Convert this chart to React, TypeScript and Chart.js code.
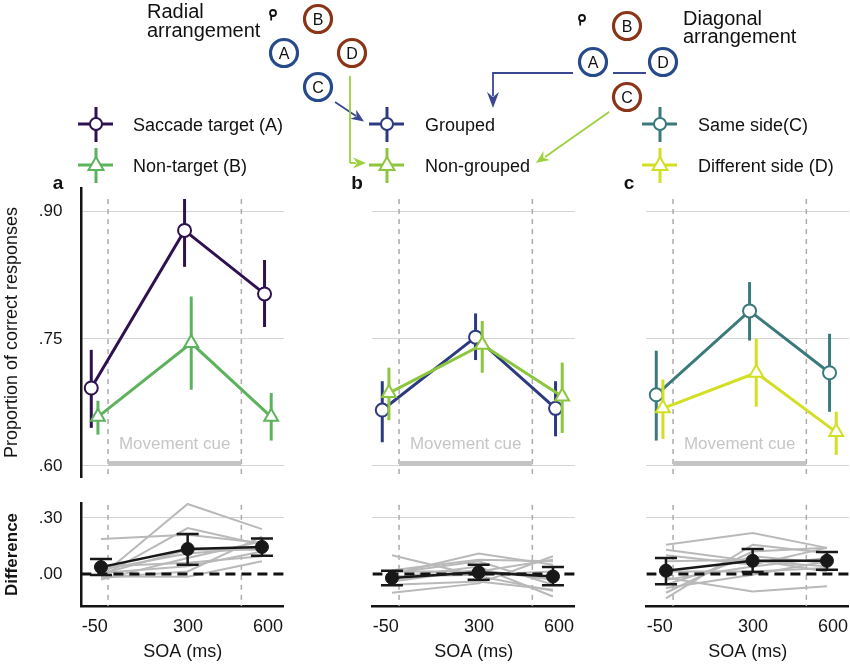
import React, { useEffect, useRef } from 'react';
import { Chart, registerables } from 'chart.js';

Chart.register(...registerables);

const FONT = "'Liberation Sans', Arial, Helvetica, sans-serif";
Chart.defaults.font.family = FONT;

// ---------------- data ----------------
const SOA = [-50, 300, 600];
const SOA_TICKS = [-50, 300, 600];
const CUE_WINDOW = [0, 500];
const Y_TICKS_TOP = [0.6, 0.75, 0.9];
const Y_TICKS_DIFF = [0, 0.3];

// panel a
const TARGET_MEAN = [0.692, 0.878, 0.803];
const TARGET_LO = [0.645, 0.835, 0.764];
const TARGET_HI = [0.737, 0.915, 0.843];
const NONTARGET_MEAN = [0.658, 0.745, 0.658];
const NONTARGET_LO = [0.637, 0.69, 0.63];
const NONTARGET_HI = [0.677, 0.8, 0.686];
// panel b
const GROUPED_MEAN = [0.666, 0.752, 0.668];
const GROUPED_LO = [0.628, 0.725, 0.635];
const GROUPED_HI = [0.7, 0.78, 0.7];
const NONGROUPED_MEAN = [0.686, 0.743, 0.682];
const NONGROUPED_LO = [0.654, 0.71, 0.639];
const NONGROUPED_HI = [0.716, 0.771, 0.722];
// panel c
const SAME_MEAN = [0.684, 0.783, 0.71];
const SAME_LO = [0.63, 0.748, 0.664];
const SAME_HI = [0.736, 0.817, 0.756];
const DIFFSIDE_MEAN = [0.668, 0.71, 0.64];
const DIFFSIDE_LO = [0.632, 0.67, 0.613];
const DIFFSIDE_HI = [0.702, 0.75, 0.664];

// difference panels: individual subjects + mean with CI
const DIFF_SUBJ_A = [
  [0.188, 0.21, 0.166],
  [-0.01, 0.375, 0.24],
  [-0.013, 0.246, 0.157],
  [-0.03, 0.086, 0.175],
  [0.005, 0.041, 0.121],
  [-0.013, -0.015, 0.068],
  [0.0, 0.13, 0.13],
  [-0.02, 0.014, 0.2],
  [0.023, 0.11, 0.14],
  [0.04, 0.06, 0.095],
];
const DIFF_MEAN_A = [0.037, 0.134, 0.145];
const DIFF_LO_A = [-0.005, 0.05, 0.098];
const DIFF_HI_A = [0.08, 0.214, 0.19];

const DIFF_SUBJ_B = [
  [0.1, -0.01, -0.09],
  [-0.1, -0.05, 0.095],
  [0.0, 0.11, 0.05],
  [0.02, 0.077, 0.068],
  [-0.02, 0.04, -0.12],
  [-0.04, 0.023, -0.03],
  [0.005, 0.068, -0.057],
  [-0.013, -0.004, 0.014],
  [-0.057, -0.04, -0.084],
  [0.014, 0.014, 0.077],
];
const DIFF_MEAN_B = [-0.021, 0.009, -0.013];
const DIFF_LO_B = [-0.06, -0.03, -0.06];
const DIFF_HI_B = [0.018, 0.05, 0.038];

const DIFF_SUBJ_C = [
  [0.157, 0.22, 0.14],
  [0.13, 0.068, 0.041],
  [0.1, 0.05, 0.14],
  [-0.13, 0.157, 0.113],
  [-0.1, 0.12, 0.14],
  [-0.02, -0.093, -0.066],
  [-0.057, 0.095, 0.059],
  [0.014, 0.014, 0.032],
  [-0.03, 0.04, 0.086],
  [0.068, 0.077, 0.014],
  [-0.075, -0.004, 0.068],
];
const DIFF_MEAN_C = [0.018, 0.071, 0.071];
const DIFF_LO_C = [-0.054, 0.011, 0.023];
const DIFF_HI_C = [0.086, 0.134, 0.118];

const PANEL_LABELS = ['a', 'b', 'c'];
const LEGEND_1 = ['Saccade target (A)', 'Grouped', 'Same side(C)'];
const LEGEND_2 = ['Non-target (B)', 'Non-grouped', 'Different side (D)'];

// ---------------- styles / layout ----------------
const COLOR_1 = ['#2e1150', '#2d3a82', '#3b7a7b'];
const COLOR_2 = ['#5db35d', '#8cc63e', '#d2df22'];
const GREY_SUBJ = '#b9b9b9';
const DASH_GREY = '#ababab';
const GRID_GREY = '#d4d4d4';
const INK = '#141414';

const PANEL_X = [0, 291, 565];
const LABEL_X = [58, 357, 629];
const AXIS_W = 81.4;
const CANVAS_W = 284;
const TOP_Y = 180;
const TOP_H = 300;
const BOT_Y = 495;
const BOT_H = 169;
const TOP_RANGE = [0.587, 0.928];
const DIFF_RANGE = [-0.171, 0.38];
const X_RANGE = [-100, 660];
const XD_RANGE = [-129, 689];
const DODGE_1 = -13;
const DODGE_2 = 12;
const CUE_BAR_Y = 0.603;
const TOP_VLINE_TOP = 0.915;
const DIFF_VLINE_TOP = 0.37;

const SERIES_1 = [
  { mean: TARGET_MEAN, lo: TARGET_LO, hi: TARGET_HI },
  { mean: GROUPED_MEAN, lo: GROUPED_LO, hi: GROUPED_HI },
  { mean: SAME_MEAN, lo: SAME_LO, hi: SAME_HI },
];
const SERIES_2 = [
  { mean: NONTARGET_MEAN, lo: NONTARGET_LO, hi: NONTARGET_HI },
  { mean: NONGROUPED_MEAN, lo: NONGROUPED_LO, hi: NONGROUPED_HI },
  { mean: DIFFSIDE_MEAN, lo: DIFFSIDE_LO, hi: DIFFSIDE_HI },
];
const DIFFS = [
  { subj: DIFF_SUBJ_A, mean: DIFF_MEAN_A, lo: DIFF_LO_A, hi: DIFF_HI_A },
  { subj: DIFF_SUBJ_B, mean: DIFF_MEAN_B, lo: DIFF_LO_B, hi: DIFF_HI_B },
  { subj: DIFF_SUBJ_C, mean: DIFF_MEAN_C, lo: DIFF_LO_C, hi: DIFF_HI_C },
];

const fmtDec = (v: number) => Number(v).toFixed(2).replace(/^0\./, '.');

const zeroPad = (s: any) => {
  s.paddingTop = 0;
  s.paddingBottom = 0;
  s.paddingLeft = 0;
  s.paddingRight = 0;
};

// ---------------- plugins ----------------
const errorBars = {
  id: 'errorBars',
  beforeDatasetDraw(chart: any, args: any) {
    const ds: any = chart.data.datasets[args.index];
    if (!ds.errLo) return;
    const meta = args.meta;
    const yScale = chart.scales[meta.yAxisID];
    const ctx = chart.ctx;
    const cap = ds.errCap || 0;
    ctx.save();
    ctx.strokeStyle = ds.borderColor;
    ctx.lineWidth = ds.errWidth || 3;
    ctx.lineCap = 'butt';
    meta.data.forEach((pt: any, i: number) => {
      const x = pt.x;
      const y1 = yScale.getPixelForValue(ds.errLo[i]);
      const y2 = yScale.getPixelForValue(ds.errHi[i]);
      ctx.beginPath();
      ctx.moveTo(x, y1);
      ctx.lineTo(x, y2);
      if (cap) {
        ctx.moveTo(x - cap, y1);
        ctx.lineTo(x + cap, y1);
        ctx.moveTo(x - cap, y2);
        ctx.lineTo(x + cap, y2);
      }
      ctx.stroke();
    });
    ctx.restore();
  },
};

const cueLabel = {
  id: 'cueLabel',
  defaults: {},
  beforeDatasetsDraw(chart: any, _args: any, opts: any) {
    if (!opts || !opts.text) return;
    const ctx = chart.ctx;
    const x = chart.scales.x.getPixelForValue(opts.x);
    const y = chart.scales.y.getPixelForValue(opts.y);
    ctx.save();
    ctx.font = `17px ${FONT}`;
    ctx.fillStyle = '#c6c6c6';
    ctx.textAlign = 'center';
    ctx.textBaseline = 'middle';
    ctx.fillText(opts.text, x, y);
    ctx.restore();
  },
};

// ---------------- chart configs ----------------
function vline(x: number, yTop: number, yBottom: number, order: number, axis = 'x') {
  return {
    label: 'v' + x,
    xAxisID: axis,
    data: [{ x, y: yTop }, { x, y: yBottom }],
    borderColor: DASH_GREY,
    borderWidth: 1.5,
    borderDash: [5, 5],
    pointRadius: 0,
    order,
  };
}

function topConfig(p: number): any {
  const s1 = SERIES_1[p];
  const s2 = SERIES_2[p];
  const first = p === 0;
  const pts = (vals: number[], dodge: number) => SOA.map((s, i) => ({ x: s + dodge, y: vals[i] }));
  return {
    type: 'line',
    data: {
      datasets: [
        {
          label: LEGEND_2[p],
          data: pts(s2.mean, DODGE_2),
          borderColor: COLOR_2[p],
          borderWidth: 3,
          pointStyle: 'triangle',
          pointRadius: 8,
          pointBorderWidth: 2,
          pointBackgroundColor: '#ffffff',
          pointBorderColor: COLOR_2[p],
          errLo: s2.lo,
          errHi: s2.hi,
          errWidth: 3,
          clip: false,
          order: 1,
        },
        {
          label: LEGEND_1[p],
          data: pts(s1.mean, DODGE_1),
          borderColor: COLOR_1[p],
          borderWidth: 3,
          pointStyle: 'circle',
          pointRadius: 6.5,
          pointBorderWidth: 2,
          pointBackgroundColor: '#ffffff',
          pointBorderColor: COLOR_1[p],
          errLo: s1.lo,
          errHi: s1.hi,
          errWidth: 3,
          clip: false,
          order: 2,
        },
        {
          label: 'Movement cue',
          data: CUE_WINDOW.map((x) => ({ x, y: CUE_BAR_Y })),
          borderColor: '#c4c4c4',
          borderWidth: 5,
          borderCapStyle: 'butt',
          pointRadius: 0,
          order: 5,
        },
        vline(CUE_WINDOW[0], TOP_VLINE_TOP, TOP_RANGE[0], 6),
        vline(CUE_WINDOW[1], TOP_VLINE_TOP, TOP_RANGE[0], 7),
      ],
    },
    options: {
      animation: false,
      responsive: true,
      maintainAspectRatio: false,
      layout: { autoPadding: false, padding: { top: 8, bottom: 3, left: 0, right: 0 } },
      elements: { line: { tension: 0 } },
      plugins: {
        legend: { display: false },
        tooltip: { enabled: false },
        cueLabel: { text: 'Movement cue', x: 250, y: 0.626 },
      },
      scales: {
        x: { type: 'linear', min: X_RANGE[0], max: X_RANGE[1], display: false },
        y: {
          type: 'linear',
          min: TOP_RANGE[0],
          max: TOP_RANGE[1],
          afterBuildTicks: (s: any) => {
            s.ticks = Y_TICKS_TOP.map((v) => ({ value: v }));
          },
          afterFit: (s: any) => {
            s.width = AXIS_W;
            zeroPad(s);
          },
          ticks: {
            display: first,
            padding: 19,
            color: INK,
            font: { size: 17 },
            callback: (v: any) => fmtDec(v),
          },
          grid: { color: GRID_GREY, lineWidth: 1, drawTicks: false },
          border: { display: first, color: INK, width: 2.5 },
          title: {
            display: first,
            text: 'Proportion of correct responses',
            color: INK,
            font: { size: 18 },
            padding: { top: 1.2, bottom: 0 },
          },
        },
      },
    },
    plugins: [errorBars, cueLabel],
  };
}

function bottomConfig(p: number): any {
  const d = DIFFS[p];
  const first = p === 0;
  return {
    type: 'line',
    data: {
      datasets: [
        {
          label: 'Mean difference',
          xAxisID: 'xd',
          data: SOA.map((s, i) => ({ x: s, y: d.mean[i] })),
          borderColor: '#181818',
          borderWidth: 2.5,
          pointStyle: 'circle',
          pointRadius: 6.5,
          pointBorderWidth: 1,
          pointBackgroundColor: '#181818',
          pointBorderColor: '#181818',
          errLo: d.lo,
          errHi: d.hi,
          errCap: 11,
          errWidth: 2.5,
          clip: false,
          order: 1,
        },
        {
          label: 'zero',
          xAxisID: 'x',
          data: [
            { x: X_RANGE[0], y: 0 },
            { x: X_RANGE[1], y: 0 },
          ],
          borderColor: '#111111',
          borderWidth: 3,
          borderDash: [10, 6],
          pointRadius: 0,
          order: 2,
        },
        ...d.subj.map((row, k) => ({
          label: 'subject ' + (k + 1),
          xAxisID: 'xd',
          data: SOA.map((s, i) => ({ x: s, y: row[i] })),
          borderColor: GREY_SUBJ,
          borderWidth: 2,
          pointRadius: 0,
          order: 3,
        })),
        vline(CUE_WINDOW[0], DIFF_VLINE_TOP, DIFF_RANGE[0], 8),
        vline(CUE_WINDOW[1], DIFF_VLINE_TOP, DIFF_RANGE[0], 9),
      ],
    },
    options: {
      animation: false,
      responsive: true,
      maintainAspectRatio: false,
      layout: { autoPadding: false, padding: { top: 8, bottom: 0, left: 0, right: 0 } },
      elements: { line: { tension: 0 } },
      plugins: { legend: { display: false }, tooltip: { enabled: false } },
      scales: {
        x: {
          type: 'linear',
          position: 'bottom',
          min: X_RANGE[0],
          max: X_RANGE[1],
          afterBuildTicks: (s: any) => {
            s.ticks = SOA_TICKS.map((v) => ({ value: v }));
          },
          afterFit: (s: any) => {
            s.height = 58;
            zeroPad(s);
          },
          ticks: {
            autoSkip: false,
            maxRotation: 0,
            padding: 10,
            color: INK,
            font: { size: 18 },
            callback: (v: any) => String(v),
          },
          grid: { display: false, drawTicks: false },
          border: { display: true, color: INK, width: 2.5 },
          title: {
            display: true,
            text: 'SOA (ms)',
            color: INK,
            font: { size: 18 },
            padding: { top: 0, bottom: 1.2 },
          },
        },
        xd: { type: 'linear', position: 'bottom', min: XD_RANGE[0], max: XD_RANGE[1], display: false },
        y: {
          type: 'linear',
          min: DIFF_RANGE[0],
          max: DIFF_RANGE[1],
          afterBuildTicks: (s: any) => {
            s.ticks = Y_TICKS_DIFF.map((v) => ({ value: v }));
          },
          afterFit: (s: any) => {
            s.width = AXIS_W;
            zeroPad(s);
          },
          ticks: {
            display: first,
            padding: 19,
            color: INK,
            font: { size: 17 },
            callback: (v: any) => fmtDec(v),
          },
          grid: {
            drawTicks: false,
            lineWidth: 1,
            color: (c: any) => (c.tick && c.tick.value === 0 ? 'rgba(0,0,0,0)' : GRID_GREY),
          },
          border: { display: first, color: INK, width: 2.5 },
          title: {
            display: first,
            text: 'Difference',
            color: INK,
            font: { size: 17, weight: 'bold' },
            padding: { top: 1.8, bottom: 0 },
          },
        },
      },
    },
    plugins: [errorBars],
  };
}

// ---------------- components ----------------
function ChartBox({ left, top, width, height, make }: any) {
  const ref = useRef<HTMLCanvasElement | null>(null);
  useEffect(() => {
    const chart = new Chart(ref.current as HTMLCanvasElement, make());
    return () => chart.destroy();
  }, []);
  return (
    <div style={{ position: 'absolute', left, top, width, height }}>
      <canvas ref={ref} />
    </div>
  );
}

function arrowHead(tx: number, ty: number, angle: number, len = 13, half = 5.5, notch = 4) {
  const c = Math.cos(angle);
  const s = Math.sin(angle);
  const bx = tx - c * len;
  const by = ty - s * len;
  const nx = -s;
  const ny = c;
  const p1 = `${bx + nx * half},${by + ny * half}`;
  const p2 = `${bx - nx * half},${by - ny * half}`;
  const pn = `${tx - c * (len - notch)},${ty - s * (len - notch)}`;
  return `M${tx},${ty} L${p1} L${pn} L${p2} Z`;
}

function Ring({ cx, cy, letter, color }: any) {
  return (
    <g>
      <circle cx={cx} cy={cy} r={13.5} fill="#fff" stroke={color} strokeWidth={3.2} />
      <text x={cx} y={cy + 5.5} textAnchor="middle" fontSize={16} fill="#111" fontFamily={FONT}>
        {letter}
      </text>
    </g>
  );
}

function Fixation({ x, y }: any) {
  return (
    <g stroke="#111" strokeWidth={1.8} fill="none">
      <circle cx={x} cy={y} r={3} />
      <line x1={x - 1.8} y1={y + 2.5} x2={x - 1.8} y2={y + 7.5} />
    </g>
  );
}

function LegendMarker({ cx, cy, color, shape }: any) {
  return (
    <g>
      <line x1={cx - 18} y1={cy} x2={cx + 17} y2={cy} stroke={color} strokeWidth={3} />
      <line x1={cx} y1={cy - 17} x2={cx} y2={cy + 18} stroke={color} strokeWidth={3} />
      {shape === 'circle' ? (
        <circle cx={cx} cy={cy} r={6} fill="#fff" stroke={color} strokeWidth={2} />
      ) : (
        <polygon
          points={`${cx},${cy - 8} ${cx + 7.5},${cy + 5} ${cx - 7.5},${cy + 5}`}
          fill="#fff"
          stroke={color}
          strokeWidth={2}
        />
      )}
    </g>
  );
}

const BROWN = '#8a3518';
const BLUE = '#264a8c';
const ARROW_NAVY = '#3a4890';
const ARROW_GREEN = '#9bd13c';
const LEGEND_MARK_X = [96, 387, 660];
const LEGEND_TEXT_X = [133, 425, 698];
const LEGEND_ROW_Y = [124, 165];

function Diagram() {
  return (
    <svg
      width={850}
      height={200}
      style={{ position: 'absolute', left: 0, top: 0, pointerEvents: 'none' }}
      fontFamily={FONT}
    >
      {/* Radial arrangement */}
      <text x={147} y={18} fontSize={20} fill="#111">Radial</text>
      <text x={147} y={37} fontSize={20} fill="#111">arrangement</text>
      <Fixation x={273} y={13} />
      <Ring cx={318} cy={19} letter="B" color={BROWN} />
      <Ring cx={284} cy={53} letter="A" color={BLUE} />
      <Ring cx={352} cy={53} letter="D" color={BROWN} />
      <Ring cx={318} cy={87} letter="C" color={BLUE} />
      <line x1={335} y1={102} x2={356} y2={116} stroke={ARROW_NAVY} strokeWidth={1.8} />
      <path d={arrowHead(364, 121.5, Math.atan2(18, 27))} fill={ARROW_NAVY} />
      <line x1={350} y1={76} x2={350} y2={163} stroke={ARROW_GREEN} strokeWidth={1.8} />
      <line x1={350} y1={163} x2={356} y2={163} stroke={ARROW_GREEN} strokeWidth={1.8} />
      <path d={arrowHead(366, 163, 0)} fill={ARROW_GREEN} />

      {/* Diagonal arrangement */}
      <text x={683} y={25} fontSize={20} fill="#111">Diagonal</text>
      <text x={683} y={43} fontSize={20} fill="#111">arrangement</text>
      <Fixation x={582} y={18} />
      <Ring cx={627} cy={26} letter="B" color={BROWN} />
      <Ring cx={593} cy={62} letter="A" color={BLUE} />
      <Ring cx={663} cy={62} letter="D" color={BLUE} />
      <Ring cx={627} cy={97} letter="C" color={BROWN} />
      <line x1={613} y1={73} x2={646} y2={73} stroke={ARROW_NAVY} strokeWidth={1.8} />
      <polyline points="573,73 493,73 493,96" fill="none" stroke={ARROW_NAVY} strokeWidth={1.8} />
      <path d={arrowHead(493, 108, Math.PI / 2, 16, 6, 5)} fill={ARROW_NAVY} />
      <line x1={609} y1={112} x2={545} y2={157} stroke={ARROW_GREEN} strokeWidth={1.8} />
      <path d={arrowHead(536, 163, Math.atan2(51, -72))} fill={ARROW_GREEN} />

      {/* legends */}
      {[0, 1, 2].map((p) => (
        <g key={p}>
          <LegendMarker cx={LEGEND_MARK_X[p]} cy={LEGEND_ROW_Y[0]} color={COLOR_1[p]} shape="circle" />
          <LegendMarker cx={LEGEND_MARK_X[p]} cy={LEGEND_ROW_Y[1]} color={COLOR_2[p]} shape="triangle" />
          <text x={LEGEND_TEXT_X[p]} y={LEGEND_ROW_Y[0] + 6.5} fontSize={18} fill="#111">
            {LEGEND_1[p]}
          </text>
          <text x={LEGEND_TEXT_X[p]} y={LEGEND_ROW_Y[1] + 6.5} fontSize={18} fill="#111">
            {LEGEND_2[p]}
          </text>
          <text x={LABEL_X[p]} y={189} fontSize={19} fontWeight="bold" textAnchor="middle" fill="#111">
            {PANEL_LABELS[p]}
          </text>
        </g>
      ))}
    </svg>
  );
}

export default function App() {
  return (
    <div
      style={{
        position: 'absolute',
        left: 0,
        top: 0,
        width: 850,
        height: 664,
        background: '#ffffff',
        overflow: 'hidden',
        fontFamily: FONT,
      }}
    >
      {[0, 1, 2].map((p) => (
        <ChartBox
          key={'t' + p}
          left={PANEL_X[p]}
          top={TOP_Y}
          width={CANVAS_W}
          height={TOP_H}
          make={() => topConfig(p)}
        />
      ))}
      {[0, 1, 2].map((p) => (
        <ChartBox
          key={'b' + p}
          left={PANEL_X[p]}
          top={BOT_Y}
          width={CANVAS_W}
          height={BOT_H}
          make={() => bottomConfig(p)}
        />
      ))}
      <Diagram />
    </div>
  );
}
